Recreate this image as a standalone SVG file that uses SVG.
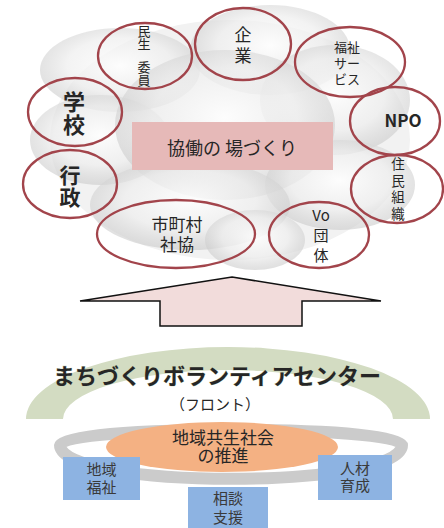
<svg xmlns="http://www.w3.org/2000/svg" width="444" height="528" viewBox="0 0 444 528">
<defs>
<radialGradient id="cg" cx="0.5" cy="0.45" r="0.55">
<stop offset="0" stop-color="#ffffff" stop-opacity="0.85"/>
<stop offset="0.6" stop-color="#eeeeee" stop-opacity="0.7"/>
<stop offset="1" stop-color="#c6c6c6" stop-opacity="0.55"/>
</radialGradient>
<style>
.ring{fill:none;stroke:#a2444b;stroke-width:2.3}
.t{font-family:"Noto Sans CJK JP","Noto Sans",sans-serif;fill:#262626;text-anchor:middle}
.b{font-weight:bold}
.cl{fill:url(#cg)}
.box{fill:#8db3e2}
.bt{font-family:"Noto Sans CJK JP",sans-serif;fill:#3a3a3a;text-anchor:middle;font-size:15px}
</style>
</defs>
<rect width="444" height="528" fill="#ffffff"/>
<g id="cloud">
<ellipse cx="230" cy="140" rx="180" ry="120" fill="#f2f2f2"/>
<ellipse class="cl" cx="120" cy="70" rx="80" ry="42"/>
<ellipse class="cl" cx="270" cy="50" rx="80" ry="45"/>
<ellipse class="cl" cx="335" cy="100" rx="75" ry="55"/>
<ellipse class="cl" cx="100" cy="140" rx="70" ry="45"/>
<ellipse class="cl" cx="225" cy="125" rx="110" ry="75"/>
<ellipse class="cl" cx="340" cy="185" rx="75" ry="45"/>
<ellipse class="cl" cx="190" cy="205" rx="100" ry="45"/>
<ellipse class="cl" cx="255" cy="240" rx="50" ry="30"/>
</g>
<g id="center">
<rect x="132" y="122" width="201" height="48" fill="#e6b9b8"/>
<text class="t" x="232" y="155" font-size="18" fill="#333">協働の 場づくり</text>
</g>
<g id="minsei">
<ellipse class="ring" cx="145" cy="56" rx="47" ry="33"/>
<text class="t" font-size="13" x="144 144 144 144" y="36 49 72 85">民生委員</text>
</g>
<g id="kigyo">
<ellipse class="ring" cx="243" cy="44" rx="48" ry="36"/>
<text class="t" font-size="17" x="243 243" y="41 62">企業</text>
</g>
<g id="fukushi">
<ellipse class="ring" cx="350" cy="62" rx="55" ry="35"/>
<text class="t" font-size="13" x="340.5 353.5 340.5 353.5 340.5 353.5" y="52 52 68 68 84 84">福祉サービス</text>
</g>
<g id="npo">
<ellipse class="ring" cx="395" cy="121" rx="45" ry="34"/>
<text class="t b" x="403" y="127" font-size="17" font-family="Liberation Sans, Arial, sans-serif">NPO</text>
</g>
<g id="gakko">
<ellipse class="ring" cx="75" cy="112" rx="47" ry="34"/>
<text class="t b" font-size="22" x="74 74" y="110 133">学校</text>
</g>
<g id="gyosei">
<ellipse class="ring" cx="70" cy="184" rx="47" ry="34"/>
<text class="t b" font-size="21" x="70 70" y="183 205">行政</text>
</g>
<g id="shakyo">
<ellipse class="ring" cx="176" cy="234" rx="79" ry="34"/>
<text class="t" font-size="17" x="160 177 194 168.5 185.5" y="231 231 231 251 251">市町村社協</text>
</g>
<g id="vo">
<ellipse class="ring" cx="319" cy="235" rx="50" ry="33"/>
<text class="t" font-size="15" x="321" y="221">Vo</text>
<text class="t" font-size="15" x="321 321" y="241 261">団体</text>
</g>
<g id="jumin">
<ellipse class="ring" cx="397" cy="189" rx="46" ry="34"/>
<text class="t" font-size="13.5" x="398 398 398 398" y="169 186 202 219">住民組織</text>
</g>
<g id="connectors">
<polygon points="232,277 381,301 302,301 302,326 160,326 160,301 80,301" fill="#f2dcdb" stroke="#111" stroke-width="1.5" stroke-linejoin="miter"/>
</g>
<g id="center-frame">
<path d="M26,419 A202,72 0 0 1 430,419 L393,419 A165,49 0 0 0 63,419 Z" fill="#d3dcc2"/>
<text class="t b" x="217" y="384" font-size="22" fill="#2a2a2a" stroke="#c5d1ae" stroke-width="0.6" paint-order="stroke">まちづくりボランティアセンター</text>
<text class="t" x="215" y="410" font-size="15" fill="#333">（フロント）</text>
</g>
<g id="suishin">
<path d="M60,445 C60,425 402,425 402,445 C402,490 60,490 60,445 Z" fill="none" stroke="#cbcbcb" stroke-width="12"/>
<ellipse cx="222" cy="447" rx="116" ry="25" fill="#f4b183"/>
<text class="t" font-size="17" fill="#333" x="180.5 197.5 214.5 231.5 248.5 265.5 206 223 240" y="444 444 444 444 444 444 462 462 462">地域共生社会の推進</text>
</g>
<g id="chiiki">
<rect class="box" x="63" y="457" width="77" height="43"/>
<text class="bt" x="94 109 94 109" y="475 475 493 493">地域福祉</text>
</g>
<g id="sodan">
<rect class="box" x="188" y="487" width="80" height="41"/>
<text class="bt" x="220.5 235.5 220.5 235.5" y="504 504 523 523">相談支援</text>
</g>
<g id="jinzai">
<rect class="box" x="318" y="455" width="74" height="45"/>
<text class="bt" x="347.5 362.5 347.5 362.5" y="474 474 491 491">人材育成</text>
</g>
</svg>
